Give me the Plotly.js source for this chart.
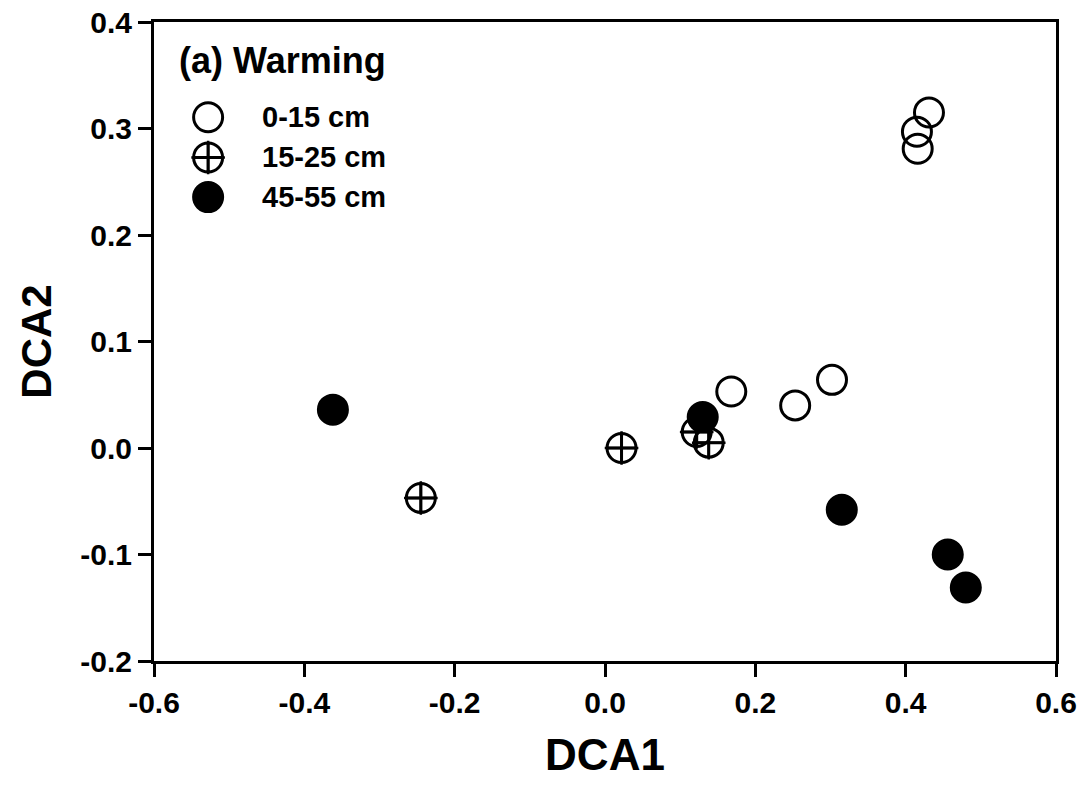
<!DOCTYPE html>
<html>
<head>
<meta charset="utf-8">
<script src="https://cdn.plot.ly/plotly-3.0.1.min.js"></script>
<style>html,body{margin:0;padding:0;background:#fff;}#chart{width:1085px;height:792px;}</style>
</head>
<body>
<div id="chart"></div>
<script>
// Data
var seriesNames = ["0-15 cm", "15-25 cm", "45-55 cm"];
var x0_15 = [0.431, 0.415, 0.416, 0.168, 0.253, 0.302];
var y0_15 = [0.315, 0.297, 0.281, 0.053, 0.040, 0.064];
var x15_25 = [-0.245, 0.022, 0.122, 0.138];
var y15_25 = [-0.047, 0.000, 0.015, 0.005];
var x45_55 = [-0.362, 0.130, 0.315, 0.456, 0.480];
var y45_55 = [0.036, 0.029, -0.058, -0.100, -0.131];
var panelTitle = "(a) Warming";
var xTickVals = [-0.6, -0.4, -0.2, 0.0, 0.2, 0.4, 0.6];
var yTickVals = [-0.2, -0.1, 0.0, 0.1, 0.2, 0.3, 0.4];

var FONT = "Liberation Sans, Arial, sans-serif";
var MS = 29, LW = 3;

var openStyle = {symbol: "circle-open", size: MS, color: "black", line: {color: "black", width: LW}};
var crossStyle = {symbol: "circle-cross-open", size: MS, color: "black", line: {color: "black", width: LW}};
var crossArm = {symbol: "cross-thin-open", size: 24, color: "black", line: {color: "black", width: 2.5}};
var filledStyle = {symbol: "circle", size: MS, color: "black", line: {color: "black", width: LW}};

var traces = [
  {x: x0_15, y: y0_15, mode: "markers", type: "scatter", name: seriesNames[0], marker: openStyle, showlegend: false},
  {x: x15_25, y: y15_25, mode: "markers", type: "scatter", name: seriesNames[1], marker: crossArm, showlegend: false, hoverinfo: "skip"},
  {x: x15_25, y: y15_25, mode: "markers", type: "scatter", name: seriesNames[1], marker: crossStyle, showlegend: false},
  {x: x45_55, y: y45_55, mode: "markers", type: "scatter", name: seriesNames[2], marker: filledStyle, showlegend: false}
];

// Custom legend on an overlay axis in fraction units
var legX = 0.06, legTextX = 0.118;
var legY = [0.851, 0.788, 0.726];
var legStyles = [[openStyle], [crossArm, crossStyle], [filledStyle]];
legStyles.forEach(function (arr, i) {
  arr.forEach(function (st) {
    traces.push({x: [legX], y: [legY[i]], xaxis: "x2", yaxis: "y2", mode: "markers", type: "scatter",
      marker: st, showlegend: false, hoverinfo: "skip"});
  });
});

var annotations = [{
  xref: "paper", yref: "paper", x: 0.026, y: 0.9405, xanchor: "left", yanchor: "middle",
  text: panelTitle, showarrow: false, font: {family: FONT, size: 36, color: "black", weight: "bold"}
}];
seriesNames.forEach(function (n, i) {
  annotations.push({
    xref: "paper", yref: "paper", x: legTextX, y: legY[i], xanchor: "left", yanchor: "middle",
    text: n, showarrow: false, font: {family: FONT, size: 29, color: "black", weight: "bold"}
  });
});

var axisCommon = {
  showgrid: false, zeroline: false, showline: true, linecolor: "black", linewidth: 3,
  mirror: true, ticks: "outside", ticklen: 13, tickwidth: 3, tickcolor: "black",
  tickfont: {family: FONT, size: 30, color: "black", weight: "bold"}
};

var layout = {
  width: 1085, height: 792,
  margin: {l: 154, r: 29, t: 22, b: 131},
  paper_bgcolor: "white", plot_bgcolor: "white",
  showlegend: false,
  xaxis: Object.assign({}, axisCommon, {
    range: [-0.6, 0.6], tickvals: xTickVals, ticktext: xTickVals.map(function (v) { return v.toFixed(1); }),
    title: {text: "DCA1", font: {family: FONT, size: 44, color: "black", weight: "bold"}, standoff: 22}
  }),
  yaxis: Object.assign({}, axisCommon, {
    range: [-0.2, 0.4], tickvals: yTickVals, ticktext: yTickVals.map(function (v) { return v.toFixed(1); }),
    title: {text: "DCA2", font: {family: FONT, size: 42, color: "black", weight: "bold"}, standoff: 16}
  }),
  xaxis2: {overlaying: "x", range: [0, 1], visible: false, fixedrange: true},
  yaxis2: {overlaying: "y", range: [0, 1], visible: false, fixedrange: true},
  annotations: annotations
};

Plotly.newPlot("chart", traces, layout, {displayModeBar: false, staticPlot: true});
</script>
</body>
</html>
